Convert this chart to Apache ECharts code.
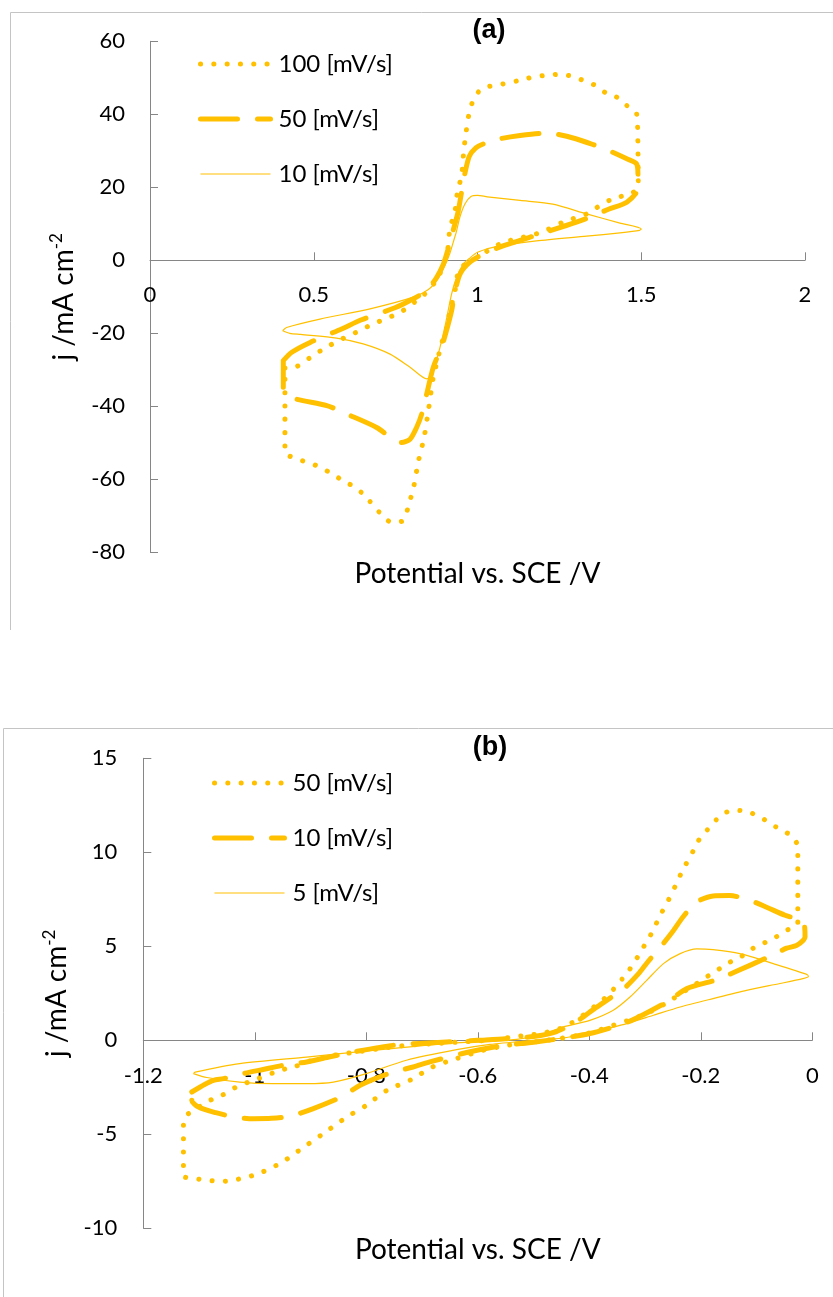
<!DOCTYPE html>
<html>
<head>
<meta charset="utf-8">
<script src="https://cdn.jsdelivr.net/npm/echarts@6/dist/echarts.min.js"></script>
<style>
  html, body { margin: 0; padding: 0; background: #fff; }
  #cvA { position: absolute; left: 0; top: 0; width: 833px; height: 650px; }
  #cvB { position: absolute; left: 0; top: 650px; width: 833px; height: 647px; }
</style>
</head>
<body>
<div id="cvA"></div>
<div id="cvB"></div>
<script>
// ---- Panel (a): potential (V vs. SCE) and current density (mA cm^-2) ----
const namesA = ['100 [mV/s]', '50 [mV/s]', '10 [mV/s]'];
const xTicksA = [0, 0.5, 1, 1.5, 2];
const yTicksA = [-80, -60, -40, -20, 0, 20, 40, 60];

const cvA100 = [
  [0.412,-29.5],[0.443,-29.3],[0.504,-25.7],[0.54,-23.8],[0.575,-22],[0.61,-20.6],[0.682,-17.4],
  [0.718,-16.1],[0.753,-14.7],[0.789,-12.9],[0.814,-11],[0.845,-8.8],[0.87,-6],[0.885,-3.7],
  [0.895,-1.9],[0.91,3.6],[0.916,9],[0.93,12.8],[0.938,18.2],[0.952,23.7],[0.958,30],[0.965,35],
  [0.975,40.5],[0.99,44.5],[1.013,47],[1.05,47.9],[1.09,48.5],[1.124,49.2],[1.165,50.1],[1.2,50.6],
  [1.24,50.9],[1.28,50.6],[1.32,49.4],[1.36,47.9],[1.39,46],[1.425,44.7],[1.456,42.4],[1.486,40.1],
  [1.49,30],[1.491,20],[1.466,18.2],[1.414,16.9],[1.374,15],[1.333,12.7],[1.26,10.4],[1.196,7.7],
  [1.12,5.9],[1.078,4.9],[1.04,3.1],[1.008,1.3],[0.977,-0.5],[0.956,-1.5],[0.94,-3.7],[0.93,-9.1],
  [0.916,-13.8],[0.906,-18.4],[0.89,-22.9],[0.876,-28],[0.865,-32],[0.85,-41.2],[0.837,-48.5],
  [0.82,-54.9],[0.806,-61.7],[0.79,-67],[0.773,-71.3],[0.738,-71.8],[0.70,-69],[0.656,-64.5],
  [0.626,-62.2],[0.59,-60.4],[0.555,-58.5],[0.52,-56.7],[0.483,-55.4],[0.448,-54.4],[0.412,-52.6],
  [0.412,-40],[0.412,-29.5]
];
const cvA50 = [
  [0.407,-27.5],[0.433,-25.2],[0.489,-22.5],[0.585,-18.8],[0.646,-16.3],[0.748,-13],[0.794,-11],
  [0.845,-8.3],[0.875,-4.7],[0.896,-1],[0.91,3],[0.925,8],[0.94,13],[0.952,19],[0.962,24],
  [0.975,28.5],[0.995,30.8],[1.018,31.9],[1.069,33.3],[1.13,34.2],[1.2,34.8],[1.24,34.6],[1.3,33.3],
  [1.35,31.8],[1.405,29.9],[1.456,27.8],[1.486,26.4],[1.49,23],[1.49,19.6],[1.456,15.9],[1.40,14],
  [1.354,12.2],[1.3,10.4],[1.19,7.2],[1.08,4],[1.018,1.75],[0.977,-0.5],[0.947,-3.7],[0.93,-9],
  [0.921,-13.8],[0.9,-21],[0.89,-23.8],[0.865,-29.3],[0.845,-36.6],[0.83,-42],[0.814,-45.8],
  [0.794,-49],[0.768,-49.9],[0.748,-49.4],[0.692,-45.8],[0.6,-42.1],[0.54,-39.8],[0.427,-37.5],
  [0.407,-35],[0.407,-27.5]
];
const cvA10 = [
  [0.405,-19.3],[0.417,-18.4],[0.519,-16.1],[0.672,-13.3],[0.804,-10.1],[0.85,-8],[0.88,-5],
  [0.9,-1.5],[0.916,2],[0.926,5],[0.936,8],[0.946,11.8],[0.962,15.5],[0.98,17.5],[1.0,17.8],
  [1.03,17.4],[1.13,16.4],[1.23,15.4],[1.333,12.7],[1.435,10.2],[1.5,8.6],[1.495,8.2],[1.435,7.5],
  [1.333,6.6],[1.18,5.3],[1.06,3.8],[1.0,2.2],[0.975,0.5],[0.957,-1],[0.936,-4.7],[0.921,-9.2],
  [0.9,-18.4],[0.88,-25.7],[0.86,-31],[0.845,-32.5],[0.794,-29.3],[0.733,-25.7],[0.651,-22.9],
  [0.57,-21.3],[0.46,-20.3],[0.427,-20],[0.405,-19.3]
];

// ---- Panel (b) ----
const namesB = ['50 [mV/s]', '10 [mV/s]', '5 [mV/s]'];
const xTicksB = [-1.2, -1, -0.8, -0.6, -0.4, -0.2, 0];
const yTicksB = [-10, -5, 0, 5, 10, 15];

const cvB50 = [
  [-1.119,-3.9],[-1.08,-3.19],[-1.059,-2.93],[-1.039,-2.57],[-1.018,-2.3],[-0.994,-2.04],
  [-0.955,-1.6],[-0.93,-1.42],[-0.907,-1.15],[-0.883,-0.97],[-0.859,-0.8],[-0.817,-0.62],
  [-0.775,-0.44],[-0.728,-0.27],[-0.68,-0.18],[-0.632,-0.09],[-0.584,0],[-0.536,0.18],
  [-0.488,0.36],[-0.453,0.62],[-0.424,1.06],[-0.406,1.45],[-0.388,1.86],[-0.37,2.3],[-0.354,2.8],
  [-0.34,3.3],[-0.327,3.8],[-0.314,4.4],[-0.302,5.0],[-0.29,5.6],[-0.28,6.2],[-0.27,6.8],
  [-0.259,7.4],[-0.249,8.0],[-0.239,8.65],[-0.228,9.3],[-0.218,9.8],[-0.207,10.5],[-0.194,11.0],
  [-0.179,11.5],[-0.163,12.0],[-0.142,12.23],[-0.118,12.2],[-0.097,11.9],[-0.077,11.6],
  [-0.058,11.2],[-0.038,10.9],[-0.026,10.3],[-0.026,8.2],[-0.026,6.2],[-0.046,5.85],[-0.065,5.5],
  [-0.085,5.2],[-0.106,4.9],[-0.125,4.5],[-0.145,4.2],[-0.164,3.85],[-0.183,3.5],[-0.203,3.1],
  [-0.222,2.75],[-0.242,2.36],[-0.264,1.95],[-0.285,1.6],[-0.321,1.15],[-0.357,0.8],[-0.393,0.44],
  [-0.435,0.18],[-0.476,0],[-0.524,-0.18],[-0.548,-0.27],[-0.59,-0.53],[-0.638,-0.97],[-0.68,-1.4],
  [-0.72,-2.1],[-0.763,-2.66],[-0.8,-3.46],[-0.835,-4.08],[-0.877,-4.96],[-0.913,-5.7],
  [-0.952,-6.5],[-0.994,-7.1],[-1.039,-7.45],[-1.061,-7.5],[-1.083,-7.45],[-1.106,-7.36],
  [-1.128,-7.2],[-1.128,-5.5],[-1.128,-4.3],[-1.119,-3.9]
];
const cvB10 = [
  [-1.113,-2.75],[-1.09,-2.35],[-1.074,-2.13],[-1.056,-2.04],[-1.021,-1.77],[-0.985,-1.55],
  [-0.949,-1.33],[-0.907,-1.15],[-0.865,-0.88],[-0.823,-0.62],[-0.752,-0.27],[-0.656,-0.09],
  [-0.6,0],[-0.55,0.08],[-0.5,0.2],[-0.46,0.45],[-0.423,1.0],[-0.39,1.7],[-0.36,2.3],[-0.336,2.8],
  [-0.31,3.6],[-0.297,4.1],[-0.27,5.05],[-0.25,5.8],[-0.232,6.56],[-0.207,7.36],[-0.178,7.68],
  [-0.148,7.7],[-0.112,7.45],[-0.08,7.05],[-0.049,6.65],[-0.016,6.3],[-0.013,5.5],[-0.028,5.05],
  [-0.046,4.9],[-0.079,4.43],[-0.139,3.63],[-0.175,3.19],[-0.225,2.75],[-0.261,2.04],[-0.324,1.06],
  [-0.357,0.71],[-0.399,0.36],[-0.45,0.1],[-0.5,-0.1],[-0.56,-0.3],[-0.62,-0.65],[-0.686,-1.15],
  [-0.716,-1.42],[-0.76,-1.77],[-0.811,-2.39],[-0.844,-3.0],[-0.895,-3.63],[-0.937,-4.04],
  [-0.97,-4.15],[-1.003,-4.17],[-1.036,-4.08],[-1.07,-3.85],[-1.101,-3.55],[-1.113,-3.2],
  [-1.113,-2.75]
];
const cvB5 = [
  [-1.11,-1.77],[-1.107,-1.69],[-1.027,-1.24],[-0.907,-0.89],[-0.787,-0.53],[-0.668,-0.2],
  [-0.58,-0.05],[-0.53,0.05],[-0.48,0.35],[-0.447,0.71],[-0.399,1.06],[-0.357,1.6],[-0.327,2.3],
  [-0.297,3.19],[-0.267,4.08],[-0.237,4.61],[-0.207,4.86],[-0.178,4.82],[-0.13,4.61],[-0.07,4.08],
  [-0.01,3.51],[-0.007,3.4],[-0.017,3.28],[-0.058,3.02],[-0.118,2.66],[-0.178,2.22],[-0.237,1.77],
  [-0.285,1.33],[-0.333,0.89],[-0.369,0.62],[-0.417,0.27],[-0.47,0.05],[-0.518,-0.05],
  [-0.578,-0.22],[-0.638,-0.5],[-0.728,-1.06],[-0.80,-1.77],[-0.859,-2.22],[-0.907,-2.3],
  [-0.967,-2.3],[-1.027,-2.22],[-1.086,-1.98],[-1.11,-1.77]
];

// ---- shared styling ----
const GOLD = '#FFC000';
const AXIS = '#868686';
const FONT = 'Lato';
const dotted = { color: GOLD, width: 5, type: [0.1, 13.2], cap: 'round', join: 'round' };
const dashed = { color: GOLD, width: 5, type: [37, 20], cap: 'round', join: 'round' };
const thin   = { color: GOLD, width: 1.2, type: 'solid', cap: 'butt', join: 'round' };

function lineSeries(name, data, style) {
  return {
    type: 'line', name: name, data: data, showSymbol: false, symbol: 'none',
    smooth: 0.25, lineStyle: style, itemStyle: { color: GOLD },
    animation: false, silent: true, z: 3
  };
}

// rounds a tick value so binary noise never reaches the label
const tickText = v => String(Math.round(v * 1000) / 1000);

function buildOption(cfg) {
  const xt = cfg.xTicks, yt = cfg.yTicks;
  const yMin = yt[0], yMax = yt[yt.length - 1];
  const xStep = Math.round((xt[1] - xt[0]) * 1000) / 1000;
  const yStep = Math.round((yt[1] - yt[0]) * 1000) / 1000;
  // the potential axis crosses at j = 0: lift the whole axis (line, ticks, labels, name) there
  const zeroLift = cfg.grid.height * (0 - yMin) / (yMax - yMin);
  return {
    animation: false,
    textStyle: { fontFamily: FONT },
    grid: Object.assign({ containLabel: false, outerBoundsMode: 'none' }, cfg.grid),
    legend: {
      data: cfg.names.map((n, i) => ({
        name: n,
        lineStyle: Object.assign({}, cfg.styles[i]),
        itemStyle: { opacity: 0 }
      })),
      orient: 'vertical', left: cfg.legendLeft, top: cfg.legendTop,
      itemWidth: 70, itemHeight: 14, itemGap: 28, selectedMode: false,
      textStyle: { fontFamily: FONT, fontSize: 24, color: '#000', lineHeight: 27,
                   padding: [0, 0, 0, 3] }
    },
    xAxis: {
      type: 'value', min: xt[0], max: xt[xt.length - 1], interval: xStep,
      position: 'bottom', offset: -zeroLift,
      axisLine: { onZero: false, lineStyle: { color: AXIS, width: 1 } },
      axisTick: { inside: true, length: 8, lineStyle: { color: AXIS } },
      axisLabel: { fontFamily: FONT, fontSize: 22, color: '#000', margin: cfg.xLabelMargin,
                   showMinLabel: true, showMaxLabel: true, formatter: tickText },
      splitLine: { show: false },
      name: 'Potential vs. SCE /V', nameLocation: 'middle', nameGap: cfg.xNameGap,
      nameTextStyle: { fontFamily: FONT, fontSize: 28, color: '#000' }
    },
    yAxis: {
      type: 'value', min: yMin, max: yMax, interval: yStep,
      axisLine: { show: true, onZero: false, lineStyle: { color: AXIS, width: 1 } },
      axisTick: { show: true, inside: true, length: 8, lineStyle: { color: AXIS } },
      axisLabel: { fontFamily: FONT, fontSize: 22, color: '#000', margin: cfg.yLabelMargin,
                   formatter: tickText },
      splitLine: { show: false },
      name: '{t|j /mA cm}{s|-2}', nameLocation: 'middle', nameGap: cfg.yNameGap,
      nameTextStyle: {
        rich: {
          t: { fontFamily: FONT, fontSize: 28, color: '#000', lineHeight: 32 },
          s: { fontFamily: FONT, fontSize: 17, color: '#000', lineHeight: 20, verticalAlign: 'top' }
        }
      }
    },
    graphic: cfg.frame.concat([{
      type: 'text', x: cfg.titleX, y: cfg.titleY, z: 10,
      style: { text: cfg.title, fill: '#000', font: 'bold 27px "Liberation Sans"',
               fontWeight: 'bold', fontSize: 27, fontFamily: 'Liberation Sans',
               align: 'center', verticalAlign: 'middle',
               textAlign: 'center', textVerticalAlign: 'middle' }
    }]),
    series: cfg.series
  };
}

function frameLine(x1, y1, x2, y2) {
  return { type: 'line', silent: true, z: 0,
           shape: { x1: x1, y1: y1, x2: x2, y2: y2 },
           style: { stroke: '#c4c4c4', lineWidth: 1 } };
}

const chartA = echarts.init(document.getElementById('cvA'), null, { renderer: 'canvas' });
chartA.setOption(buildOption({
  names: namesA, xTicks: xTicksA, yTicks: yTicksA, styles: [dotted, dashed, thin],
  grid: { left: 150, top: 41.3, width: 655, height: 511 },
  legendLeft: 193, legendTop: 45.5,
  xLabelMargin: 24, yLabelMargin: 25, xNameGap: 300, yNameGap: 70,
  title: '(a)', titleX: 489, titleY: 31,
  frame: [frameLine(10.5, 12.5, 833, 12.5), frameLine(10.5, 12.5, 10.5, 630)],
  series: [
    lineSeries(namesA[0], cvA100, dotted),
    lineSeries(namesA[1], cvA50, dashed),
    lineSeries(namesA[2], cvA10, thin)
  ]
}));

const chartB = echarts.init(document.getElementById('cvB'), null, { renderer: 'canvas' });
chartB.setOption(buildOption({
  names: namesB, xTicks: xTicksB, yTicks: yTicksB, styles: [dotted, dashed, thin],
  grid: { left: 143.3, top: 108.3, width: 669, height: 470 },
  legendLeft: 207, legendTop: 114.5,
  xLabelMargin: 25, yLabelMargin: 26, xNameGap: 196, yNameGap: 70,
  title: '(b)', titleX: 490, titleY: 98,
  frame: [frameLine(3.5, 78.5, 833, 78.5), frameLine(3.5, 78.5, 3.5, 647)],
  series: [
    lineSeries(namesB[0], cvB50, dotted),
    lineSeries(namesB[1], cvB10, dashed),
    lineSeries(namesB[2], cvB5, thin)
  ]
}));
</script>
</body>
</html>
